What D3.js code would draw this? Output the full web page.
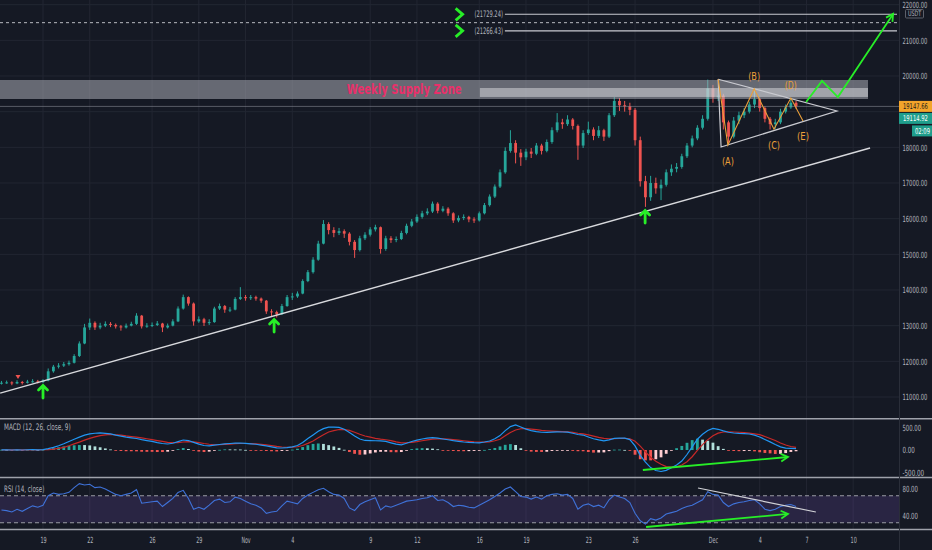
<!DOCTYPE html>
<html><head><meta charset="utf-8">
<script src="https://cdn.jsdelivr.net/npm/d3@7"></script>
<style>html,body{margin:0;padding:0;background:#151924;overflow:hidden}</style>
</head><body>
<svg id="c" width="932" height="550"></svg>
<script>
// ---------------- DATA ----------------
const candleStart = "2020-10-16T08:00";
const candleStepHours = 8;
const firstOpen = 11380;
const closes = [11400,11410,11380,11420,11400,11430,11440,11420,11460,11720,
11850,11880,11920,11960,12150,12500,12950,13080,12950,13000,
13050,13020,12980,12950,13000,13050,13280,12980,13000,13020,
13060,12950,13000,13120,13480,13800,13620,13120,13180,13080,
13100,13480,13550,13450,13450,13750,13800,13770,13800,13760,
13700,13400,13380,13320,13550,13800,13820,13900,14250,14500,
14850,15300,15850,15680,15600,15650,15580,15350,15120,15450,
15550,15700,15760,15150,15450,15400,15430,15600,15800,15920,
16050,16150,16200,16420,16220,16280,16150,15950,16020,16050,
15980,15950,16150,16380,16620,16900,17300,17900,18120,17850,
17720,17880,17820,18050,17900,18150,18480,18700,18650,18780,
18600,18050,18400,18500,18320,18480,18300,18900,19300,19180,
19150,19050,18200,17050,16600,17000,16850,16950,17300,17400,
17450,17750,18050,18250,18550,18800,19650,19400,19450,18700,
18300,18750,18900,19000,19200,19350,19100,18800,18650,18700,
19000,19120,19250,19148];
const highs = [11450,11460,11440,11470,11450,11480,11500,11480,11500,11800,
11900,11950,11980,12020,12200,12560,13050,13200,13120,13080,
13120,13100,13060,13020,13060,13110,13350,13300,13070,13090,
13130,13080,13060,13180,13540,13870,13820,13650,13260,13220,
13180,13530,13620,13580,13520,13800,14080,13860,13860,13840,
13790,13720,13460,13420,13610,13860,13920,13960,14300,14560,
14920,15380,15960,15900,15760,15740,15700,15620,15400,15520,
15620,15760,15830,15780,15520,15510,15500,15660,15860,15990,
16120,16220,16290,16480,16460,16350,16320,16180,16090,16120,
16080,16040,16200,16440,16680,16960,17380,18000,18480,18200,
17950,17960,17980,18120,18100,18220,18560,18960,18800,18900,
18820,18640,18480,18720,18560,18600,18520,18960,19410,19380,
19300,19250,19100,18300,17200,17200,17150,17100,17380,17520,
17560,17820,18120,18330,18620,18900,19900,19750,19620,19500,
18750,18850,19000,19100,19280,19600,19400,19150,18850,18800,
19080,19200,19380,19300];
const lows = [11350,11370,11330,11360,11350,11380,11400,11380,11390,11440,
11680,11800,11840,11880,11940,12120,12480,12880,12880,12900,
12960,12960,12920,12860,12920,12980,13020,12920,12940,12960,
12990,12820,12920,12980,13100,13450,13560,13000,13080,12990,
13020,13080,13440,13360,13380,13430,13720,13700,13720,13700,
13640,13330,13260,13230,13300,13530,13720,13780,13880,14220,
14460,14820,15280,15560,15480,15540,15460,15250,14900,15080,
15400,15500,15640,15020,15100,15320,15340,15400,15560,15760,
15880,16000,16100,16160,16150,16180,16080,15880,15900,15960,
15900,15880,15920,16120,16340,16580,16860,17260,17850,17550,
17480,17640,17700,17780,17800,17860,18100,18420,18520,18600,
18500,17650,17980,18350,18200,18260,18180,18260,18850,19020,
19000,18900,18050,16900,16330,16500,16700,16520,16900,17200,
17300,17400,17700,18000,18200,18500,18750,19250,19300,18500,
18100,18250,18650,18820,18950,19100,19000,18700,18500,18520,
18650,18950,19080,19080];
const macdLine = [5,5,0,5,0,5,8,5,10,30,
60,95,140,190,240,285,330,360,372,380,
370,358,330,308,285,270,255,230,210,192,
165,145,133,150,185,222,210,170,130,100,
92,108,122,138,145,152,156,148,138,128,
110,90,68,48,45,52,70,100,165,255,
335,415,475,508,508,502,460,390,310,245,
212,208,205,202,190,160,130,115,150,190,
220,245,262,274,262,245,228,208,192,178,
168,162,160,178,200,250,320,430,520,556,
510,465,430,410,395,390,398,402,400,398,
372,345,332,290,250,225,205,225,258,265,
262,232,90,-120,-270,-390,-455,-478,-452,-395,
-335,-245,-100,70,240,350,435,478,460,425,
395,378,368,362,356,330,290,235,180,122,
70,42,35,30];
const signalLine = [0,2,2,3,3,3,4,4,5,8,
20,35,60,95,135,175,220,258,292,320,
335,345,338,330,312,298,285,268,250,232,
210,190,170,162,165,178,188,182,165,145,
128,117,118,124,132,140,145,145,143,138,
125,112,96,80,67,61,62,72,100,148,
200,270,340,400,430,455,455,435,395,350,
312,285,260,242,228,208,180,160,162,170,
185,205,225,243,246,246,240,230,218,205,
193,183,176,176,180,205,240,315,390,445,
472,478,466,452,438,428,420,414,409,404,
392,372,360,335,308,280,258,250,250,255,
260,250,195,85,-40,-160,-250,-315,-368,-380,
-375,-335,-260,-150,-10,120,230,315,375,400,
405,400,394,385,375,360,340,300,255,210,
155,110,78,58];
const rsiLine = [49,48,46,50,47,51,55,53,56,70,
74,72,73,75,82,88,86,87,82,83,
80,76,72,70,72,74,79,59,60,61,
62,54,60,66,75,78,66,50,53,50,
56,63,65,60,61,68,66,62,58,56,
52,44,46,47,55,62,60,58,66,71,
75,79,81,76,72,71,66,52,48,57,
61,64,67,49,55,53,56,59,62,63,
64,66,67,70,63,64,60,54,56,55,
53,52,56,60,64,69,74,80,83,76,
69,68,65,68,65,70,72,73,71,72,
66,50,56,58,54,56,52,64,71,68,
66,60,44,33,28,36,34,37,43,45,
47,51,54,56,60,64,76,72,71,60,
54,58,60,61,63,64,58,50,48,50,
54,56,57,54];

const timeTickDates = ["2020-10-19","2020-10-22","2020-10-26","2020-10-29","2020-11-01","2020-11-04","2020-11-09","2020-11-12","2020-11-16","2020-11-19","2020-11-23","2020-11-26","2020-12-01","2020-12-04","2020-12-07","2020-12-10"];
const timeTickLabels = ["19","22","26","29","Nov","4","9","12","16","19","23","26","Dec","4","7","10"];
const priceGrid = [11000,12000,13000,14000,15000,16000,17000,18000,19000,20000,21000,22000];
// 19000.00 is hidden behind the last-price labels in the reference
const priceTickLabels = [11000,12000,13000,14000,15000,16000,17000,18000,20000,21000,22000];
const macdTicks = [-500,0,500];
const rsiTicks = [40,80];
const rsiBand = [30,70];

const lastPrice = 19147.66;
const secondPrice = 19114.92;
const countdown = "02:09";
const currency = "USDT";

const trendLine = [["2020-10-16T06:00",11110],["2020-12-11T02:00",17980]];
const triangle = [["2020-12-01T08:00",19910],["2020-12-08T23:00",19020],["2020-12-01T12:30",18010],["2020-12-01T08:00",19910]];
const wave = [["2020-12-01T08:00",19910],["2020-12-01T23:00",18060],["2020-12-03T15:30",19640],["2020-12-04T22:00",18510],["2020-12-06T00:00",19380],["2020-12-06T18:45",18740]];
const waveLabels = ["(A)","(B)","(C)","(D)","(E)"];
const projection = [["2020-12-06T23:30",19270],["2020-12-08T00:00",19860],["2020-12-09T00:30",19410],["2020-12-12T13:30",21740]];
const supplyZone = {from:"2020-10-16T05:45", to:"2020-12-10T22:50", lo:19355, hi:19888};
const supplyInner = {from:"2020-11-16T01:00", to:"2020-12-10T22:50", lo:19412, hi:19664};
const supplyLabel = {text:"Weekly Supply Zone", at:"2020-11-07T12:00"};
const targetPrices = [21729.24, 21266.43];
const targetFrom = "2020-11-17T15:30";
const targetTo = "2020-12-12T19:30";
const chevronAt = "2020-11-14T17:00";
const dashedLevel = 21495;
const supportArrows = [["2020-10-19T00:00",11336],["2020-11-02T20:00",13187],["2020-11-26T15:30",16243]];
const redMarker = ["2020-10-17T09:30",11560];
const macdDivergence = [["2020-11-26T12:00",-444],["2020-12-05T19:30",-156]];
const rsiDivergence = [["2020-11-26T17:00",23.7],["2020-12-05T19:30",43]];
const rsiResistance = [["2020-11-30T01:00",81.5],["2020-12-07T14:30",45.9]];

// ---------------- DRAW ----------------
const FONT = "'Liberation Sans Narrow', 'DejaVu Sans Condensed', Roboto, 'Liberation Sans', sans-serif";
const BG = "#151924", TXT = "#b2b5be", GRID = "#222632";
const UP = "#26a69a", DOWN = "#ef5350", GREEN = "#27ee27", ORANGE = "#eba03a";
const plotR = 899;
const T = s => new Date((s.length === 10 ? s + "T00:00" : s) + "Z");
const svg = d3.select("#c");
svg.append("rect").attr("width",932).attr("height",550).attr("fill",BG);

const x = d3.scaleUtc().domain([T("2020-10-16T05:45"), T("2020-12-12T22:35")]).range([0, plotR]);
const yP = d3.scaleLinear().domain([11000,21000]).range([397,40.33]);
const yM = d3.scaleLinear().domain([-500,500]).range([472.5,427.5]);
const yR = d3.scaleLinear().domain([40,80]).range([516,489]);
const tAt = i => d3.utcHour.offset(T(candleStart), i*candleStepHours);

// horizontally condense a text to a target width (per character), scaling around its anchor
function squeeze(sel, perChar, total){
  sel.each(function(){
    const el = d3.select(this);
    const nat = this.getComputedTextLength();
    if (!nat) return;
    const target = total || this.textContent.length*perChar;
    const sx = Math.min(1, target/nat);
    const x0 = +el.attr("x") || 0;
    el.attr("transform", `translate(${x0},0) scale(${sx},1) translate(${-x0},0)`);
  });
}
const defs = svg.append("defs");
[["cMain",0,0,plotR,417],["cMacd",0,420,plotR,56],["cRsi",0,479,plotR,50]].forEach(c=>{
  defs.append("clipPath").attr("id",c[0]).append("rect").attr("x",c[1]).attr("y",c[2]).attr("width",c[3]).attr("height",c[4]);
});

// grid
const grid = svg.append("g");
grid.selectAll("line.v").data(timeTickDates).join("line")
  .attr("x1",d=>x(T(d))).attr("x2",d=>x(T(d))).attr("y1",0).attr("y2",529)
  .attr("stroke",GRID).attr("stroke-width",1);
grid.selectAll("line.h").data(priceGrid).join("line")
  .attr("x1",0).attr("x2",plotR).attr("y1",d=>yP(d)).attr("y2",d=>yP(d))
  .attr("stroke",GRID).attr("stroke-width",1);

// main panel
const main = svg.append("g").attr("clip-path","url(#cMain)");
const candles = closes.map((c,i)=>({t:tAt(i), o: i===0?firstOpen:closes[i-1], c, h:highs[i], l:lows[i]}));
const cg = main.append("g");
cg.selectAll("line").data(candles).join("line")
  .attr("x1",d=>x(d.t)).attr("x2",d=>x(d.t)).attr("y1",d=>yP(d.h)).attr("y2",d=>yP(d.l))
  .attr("stroke",d=>d.c>=d.o?UP:DOWN).attr("stroke-width",1);
cg.selectAll("rect").data(candles).join("rect")
  .attr("x",d=>x(d.t)-1.4).attr("width",2.8)
  .attr("y",d=>yP(Math.max(d.o,d.c))).attr("height",d=>Math.max(1,Math.abs(yP(d.o)-yP(d.c))))
  .attr("fill",d=>d.c>=d.o?UP:DOWN);

const lineP = d3.line().x(d=>x(T(d[0]))).y(d=>yP(d[1]));

// supply zone
main.append("rect").attr("x",x(T(supplyZone.from))).attr("width",x(T(supplyZone.to))-x(T(supplyZone.from)))
  .attr("y",yP(supplyZone.hi)).attr("height",yP(supplyZone.lo)-yP(supplyZone.hi))
  .attr("fill","rgba(170,172,180,0.55)");
main.append("rect").attr("x",x(T(supplyInner.from))).attr("width",x(T(supplyInner.to))-x(T(supplyInner.from)))
  .attr("y",yP(supplyInner.hi)).attr("height",yP(supplyInner.lo)-yP(supplyInner.hi))
  .attr("fill","rgba(220,221,226,0.5)");
main.append("text").text(supplyLabel.text)
  .attr("x",x(T(supplyLabel.at))).attr("y",yP((supplyZone.hi+supplyZone.lo)/2)+4.5)
  .attr("font-family",FONT).attr("font-weight","bold").attr("font-size",13.5).attr("fill","#e8306a")
  .call(s=>squeeze(s,0,115));

// last price line
main.append("line").attr("x1",0).attr("x2",plotR).attr("y1",yP(lastPrice)).attr("y2",yP(lastPrice))
  .attr("stroke","#8d9099").attr("stroke-width",0.8).attr("opacity",0.7);

// trend line
main.append("path").attr("d",lineP(trendLine)).attr("fill","none").attr("stroke","#d8d9dd").attr("stroke-width",1.4);
// triangle
main.append("path").attr("d",lineP(triangle)).attr("fill","none").attr("stroke","#c9cad0").attr("stroke-width",1.2);
// wave
main.append("path").attr("d",lineP(wave)).attr("fill","none").attr("stroke",ORANGE).attr("stroke-width",1.1);
const labelDy = [16,-13,16,-13,15];
main.selectAll("text.wl").data(waveLabels).join("text")
  .attr("x",(d,i)=>x(T(wave[i+1][0]))).attr("y",(d,i)=>yP(wave[i+1][1])+labelDy[i]+4)
  .attr("text-anchor","middle").attr("font-family",FONT).attr("font-size",11).attr("fill",ORANGE)
  .text(d=>d).call(s=>squeeze(s,0,12));

// target lines
main.append("line").attr("x1",0).attr("x2",plotR-2).attr("y1",yP(dashedLevel)).attr("y2",yP(dashedLevel))
  .attr("stroke","#b8bac1").attr("stroke-width",1).attr("stroke-dasharray","3,3");
targetPrices.forEach(p=>{
  main.append("line").attr("x1",x(T(targetFrom))).attr("x2",x(T(targetTo))).attr("y1",yP(p)).attr("y2",yP(p))
    .attr("stroke","#c9cad0").attr("stroke-width",1.1);
  main.append("text").text("("+p.toFixed(2)+")").attr("x",x(T(targetFrom))-2).attr("y",yP(p)+3)
    .attr("text-anchor","end").attr("font-family",FONT).attr("font-size",9).attr("fill",TXT)
    .call(s=>squeeze(s,2.85));
  const cx = x(T(chevronAt)), cy = yP(p);
  main.append("path").attr("d",`M${cx-3.5},${cy-6} L${cx+3.5},${cy} L${cx-3.5},${cy+6}`)
    .attr("fill","none").attr("stroke",GREEN).attr("stroke-width",2.8).attr("stroke-linejoin","miter");
});

function arrowHead(g, pts, scaleY, color, w){
  const a = pts[pts.length-2], b = pts[pts.length-1];
  const x1=x(T(a[0])), y1=scaleY(a[1]), x2=x(T(b[0])), y2=scaleY(b[1]);
  const ang = Math.atan2(y2-y1, x2-x1), L=8, s=0.5;
  const p1=[x2-L*Math.cos(ang-s), y2-L*Math.sin(ang-s)], p2=[x2-L*Math.cos(ang+s), y2-L*Math.sin(ang+s)];
  g.append("path").attr("d",`M${p1[0]},${p1[1]} L${x2},${y2} L${p2[0]},${p2[1]}`)
    .attr("fill","none").attr("stroke",color).attr("stroke-width",w);
}
// projection
main.append("path").attr("d",lineP(projection)).attr("fill","none").attr("stroke",GREEN).attr("stroke-width",1.8);
arrowHead(main, projection, yP, GREEN, 1.8);

// support arrows
supportArrows.forEach(d=>{
  const ax=x(T(d[0])), ay=yP(d[1]);
  main.append("path").attr("d",`M${ax},${ay+1} L${ax},${ay+13} M${ax-4.5},${ay+5} L${ax},${ay+0.5} L${ax+4.5},${ay+5}`)
    .attr("fill","none").attr("stroke",GREEN).attr("stroke-width",2.8).attr("stroke-linecap","round");
});
main.append("path")
  .attr("d",`M${x(T(redMarker[0]))-2.5},${yP(redMarker[1])-2} L${x(T(redMarker[0]))+2.5},${yP(redMarker[1])-2} L${x(T(redMarker[0]))},${yP(redMarker[1])+2} Z`)
  .attr("fill","#ef5350");

// MACD panel
const mg = svg.append("g").attr("clip-path","url(#cMacd)");
const hist = macdLine.map((m,i)=>({t:tAt(i), v:m-signalLine[i]}));
mg.selectAll("rect").data(hist).join("rect")
  .attr("x",d=>x(d.t)-1.4).attr("width",2.8)
  .attr("y",d=>Math.min(yM(0),yM(d.v))).attr("height",d=>Math.max(0.8,Math.abs(yM(d.v)-yM(0))))
  .attr("fill",(d,i)=>{const prev=i?hist[i-1].v:0; return d.v>=0?(d.v>prev?"#26a69a":"#b2dfdb"):(d.v>prev?"#ffcdd2":"#ef5350");});
const lineM = d3.line().x((d,i)=>x(tAt(i))).y(d=>yM(d));
mg.append("path").attr("d",lineM(signalLine)).attr("fill","none").attr("stroke","#c62828").attr("stroke-width",1.2);
mg.append("path").attr("d",lineM(macdLine)).attr("fill","none").attr("stroke","#2196f3").attr("stroke-width",1.2);
const lineMd = d3.line().x(d=>x(T(d[0]))).y(d=>yM(d[1]));
mg.append("path").attr("d",lineMd(macdDivergence)).attr("fill","none").attr("stroke",GREEN).attr("stroke-width",1.8);
arrowHead(mg, macdDivergence, yM, GREEN, 1.8);
svg.append("text").text("MACD (12, 26, close, 9)").attr("x",4).attr("y",430)
  .attr("font-family",FONT).attr("font-size",9).attr("fill",TXT).call(s=>squeeze(s,2.9));

// RSI panel
const rg = svg.append("g").attr("clip-path","url(#cRsi)");
rg.append("rect").attr("x",0).attr("width",plotR).attr("y",yR(rsiBand[1])).attr("height",yR(rsiBand[0])-yR(rsiBand[1]))
  .attr("fill","rgba(126,87,194,0.2)");
rsiBand.forEach(v=>rg.append("line").attr("x1",0).attr("x2",plotR).attr("y1",yR(v)).attr("y2",yR(v))
  .attr("stroke","#9a9ca5").attr("stroke-width",1).attr("stroke-dasharray","4,3"));
rg.append("path").attr("d",d3.line().x((d,i)=>x(tAt(i))).y(d=>yR(d))(rsiLine))
  .attr("fill","none").attr("stroke","#3f72d8").attr("stroke-width",1.1);
const lineRd = d3.line().x(d=>x(T(d[0]))).y(d=>yR(d[1]));
rg.append("path").attr("d",lineRd(rsiResistance)).attr("fill","none").attr("stroke","#d0d1d6").attr("stroke-width",1.2);
rg.append("path").attr("d",lineRd(rsiDivergence)).attr("fill","none").attr("stroke",GREEN).attr("stroke-width",1.8);
arrowHead(rg, rsiDivergence, yR, GREEN, 1.8);
svg.append("text").text("RSI (14, close)").attr("x",4).attr("y",492)
  .attr("font-family",FONT).attr("font-size",9).attr("fill",TXT).call(s=>squeeze(s,2.7));

// separators
[418.8,477.5,529.5].forEach(yy=>svg.append("line").attr("x1",0).attr("x2",932).attr("y1",yy).attr("y2",yy)
  .attr("stroke","#9fa2ab").attr("stroke-width",1.6));
svg.append("line").attr("x1",plotR+0.5).attr("x2",plotR+0.5).attr("y1",0).attr("y2",550).attr("stroke","#2a2e39");

// axes
function styleAxis(g){
  g.select(".domain").remove();
  g.selectAll("text").attr("fill",TXT).attr("font-family",FONT).attr("font-size",8.5).call(s=>squeeze(s,3.1));
}
svg.append("g").attr("transform",`translate(${plotR},0)`)
  .call(d3.axisRight(yP).tickValues(priceTickLabels).tickFormat(d=>d.toFixed(2)).tickSize(0).tickPadding(3.5)).call(styleAxis);
svg.append("g").attr("transform",`translate(${plotR},0)`)
  .call(d3.axisRight(yM).tickValues(macdTicks).tickFormat(d=>d.toFixed(2)).tickSize(0).tickPadding(3.5)).call(styleAxis);
svg.append("g").attr("transform",`translate(${plotR},0)`)
  .call(d3.axisRight(yR).tickValues(rsiTicks).tickFormat(d=>d.toFixed(2)).tickSize(0).tickPadding(3.5)).call(styleAxis);
svg.append("g").attr("transform","translate(0,530)")
  .call(d3.axisBottom(x).tickValues(timeTickDates.map(T)).tickFormat((d,i)=>timeTickLabels[i]).tickSize(0).tickPadding(7))
  .call(styleAxis);

// price labels
const pl = svg.append("g").attr("font-family",FONT).attr("font-size",8);
const yl = yP(lastPrice);
pl.append("rect").attr("x",plotR).attr("y",yl-5.5).attr("width",33).attr("height",11).attr("fill","#f3a42a");
pl.append("text").text(lastPrice.toFixed(2)).attr("x",plotR+4).attr("y",yl+3).attr("fill","#1b1b1b").call(s=>squeeze(s,3.1));
pl.append("rect").attr("x",plotR).attr("y",yl+6.5).attr("width",33).attr("height",11).attr("fill","#1f9e8c");
pl.append("text").text(secondPrice.toFixed(2)).attr("x",plotR+4).attr("y",yl+15).attr("fill","#ffffff").call(s=>squeeze(s,3.1));
pl.append("rect").attr("x",plotR+13).attr("y",yl+19).attr("width",20).attr("height",11).attr("fill","#1f9e8c");
pl.append("text").text(countdown).attr("x",plotR+16).attr("y",yl+27.5).attr("fill","#ffffff").call(s=>squeeze(s,3));
pl.append("rect").attr("x",905.5).attr("y",9.5).attr("width",18).attr("height",8.5).attr("fill",BG).attr("stroke","#5d606b").attr("rx",1);
pl.append("text").text(currency).attr("x",914.5).attr("y",16.2).attr("text-anchor","middle").attr("font-size",7.5).attr("fill",TXT).call(s=>squeeze(s,3.3));
</script>
</body></html>
